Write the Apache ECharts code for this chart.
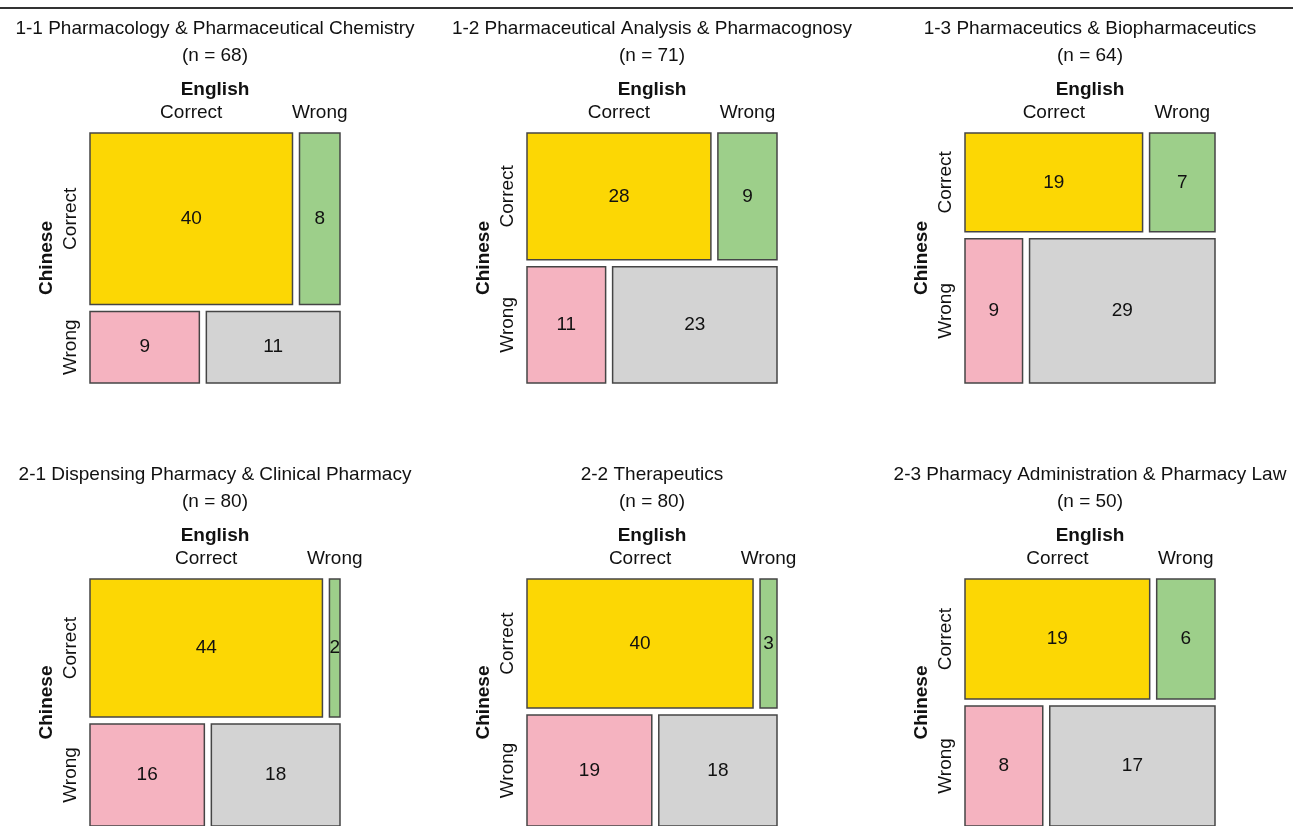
<!DOCTYPE html>
<html>
<head>
<meta charset="utf-8">
<script src="https://cdn.jsdelivr.net/npm/echarts@6/dist/echarts.min.js"></script>
<style>
  html, body { margin: 0; padding: 0; background: #fff; }
  #chart { width: 1293px; height: 826px; }
</style>
</head>
<body>
<div id="chart"></div>
<script>
// Subject panels, in reading order
const panelTitles = [
  '1-1 Pharmacology & Pharmaceutical Chemistry',
  '1-2 Pharmaceutical Analysis & Pharmacognosy',
  '1-3 Pharmaceutics & Biopharmaceutics',
  '2-1 Dispensing Pharmacy & Clinical Pharmacy',
  '2-2 Therapeutics',
  '2-3 Pharmacy Administration & Pharmacy Law'
];
const levels = ['Correct', 'Wrong'];
// Counts: first word = Chinese answer, second word = English answer
const correctCorrect = [40, 28, 19, 44, 40, 19];
const correctWrong   = [8, 9, 7, 2, 3, 6];
const wrongCorrect   = [9, 11, 9, 16, 19, 8];
const wrongWrong     = [11, 23, 29, 18, 18, 17];

const FONT = '"Liberation Sans", Arial, sans-serif';
const FS = 19;
const TEXT = '#111';
const CELL_COLORS = [['#FCD704', '#9DCF8A'], ['#F5B3C0', '#D3D3D3']];
const GAP = 0.0288;           // spacing between tiles, in axis units
const PANEL_LEFT = [90, 527, 965];
const PANEL_TOP = [133, 579];
const PANEL_SIZE = 250;

// Build mosaic tiles: rows split by Chinese result, columns within each row by English result
function tiles(i) {
  const table = [[correctCorrect[i], correctWrong[i]], [wrongCorrect[i], wrongWrong[i]]];
  const n = table[0][0] + table[0][1] + table[1][0] + table[1][1];
  const out = [];
  let yAcc = 0;
  table.forEach((row, r) => {
    const rowSum = row[0] + row[1];
    const y0 = yAcc + r * GAP, y1 = y0 + rowSum / n;
    let xAcc = 0;
    row.forEach((v, c) => {
      const x0 = xAcc + c * GAP, x1 = x0 + v / rowSum;
      out.push([x0, x1, y0, y1, v, r, c]);
      xAcc += v / rowSum;
    });
    yAcc += rowSum / n;
  });
  return { out, n };
}

const grids = [], xAxes = [], yAxes = [], series = [], titles = [];
panelTitles.forEach((name, i) => {
  const col = i % 3, row = Math.floor(i / 3);
  const { out, n } = tiles(i);
  grids.push({ left: PANEL_LEFT[col], top: PANEL_TOP[row], width: PANEL_SIZE, height: PANEL_SIZE });
  xAxes.push({
    gridIndex: i, type: 'value', min: 0, max: 1 + GAP, position: 'top',
    axisLine: { show: false }, axisTick: { show: false }, axisLabel: { show: false }, splitLine: { show: false },
    name: 'English', nameLocation: 'middle', nameGap: 34,
    nameTextStyle: { fontFamily: FONT, fontSize: FS, fontWeight: 'bold', color: TEXT }
  });
  yAxes.push({
    gridIndex: i, type: 'value', min: 0, max: 1 + GAP, inverse: true,
    axisLine: { show: false }, axisTick: { show: false }, axisLabel: { show: false }, splitLine: { show: false },
    name: 'Chinese', nameLocation: 'middle', nameGap: 34,
    nameTextStyle: { fontFamily: FONT, fontSize: FS, fontWeight: 'bold', color: TEXT }
  });
  titles.push({
    text: name + '\n(n = ' + n + ')',
    left: PANEL_LEFT[col] + PANEL_SIZE / 2,
    top: PANEL_TOP[row] - 118,
    padding: 0,
    textAlign: 'center',
    textStyle: { fontFamily: FONT, fontSize: FS, fontWeight: 'normal', color: TEXT, lineHeight: 27 }
  });
  series.push({
    type: 'custom',
    xAxisIndex: i, yAxisIndex: i,
    data: out,
    silent: true,
    clip: false,
    renderItem: function (params, api) {
      const p0 = api.coord([api.value(0), api.value(2)]);
      const p1 = api.coord([api.value(1), api.value(3)]);
      const x = Math.min(p0[0], p1[0]), y = Math.min(p0[1], p1[1]);
      const w = Math.abs(p1[0] - p0[0]), h = Math.abs(p1[1] - p0[1]);
      const r = api.value(5), c = api.value(6);
      const font = FS + 'px ' + FONT;
      const children = [
        { type: 'rect', shape: { x, y, width: w, height: h },
          style: { fill: CELL_COLORS[r][c], stroke: '#454545', lineWidth: 1.5 } },
        { type: 'text', style: { text: String(api.value(4)), x: x + w / 2, y: y + h / 2,
          align: 'center', verticalAlign: 'middle', font, fill: TEXT } }
      ];
      if (r === 0) {
        children.push({ type: 'text', style: { text: levels[c], x: x + w / 2, y: y - 20,
          align: 'center', verticalAlign: 'middle', font, fill: TEXT } });
      }
      if (c === 0) {
        children.push({ type: 'text', x: x - 19, y: y + h / 2, rotation: Math.PI / 2,
          style: { text: levels[r], x: 0, y: 0, align: 'center', verticalAlign: 'middle',
            font, fill: TEXT } });
      }
      return { type: 'group', children };
    }
  });
});

const chart = echarts.init(document.getElementById('chart'));
chart.setOption({
  animation: false,
  backgroundColor: '#fff',
  title: titles,
  grid: grids,
  xAxis: xAxes,
  yAxis: yAxes,
  series: series,
  graphic: [{
    type: 'line', shape: { x1: 0, y1: 8, x2: 1293, y2: 8 },
    style: { stroke: '#333', lineWidth: 2 }
  }]
});
</script>
</body>
</html>
